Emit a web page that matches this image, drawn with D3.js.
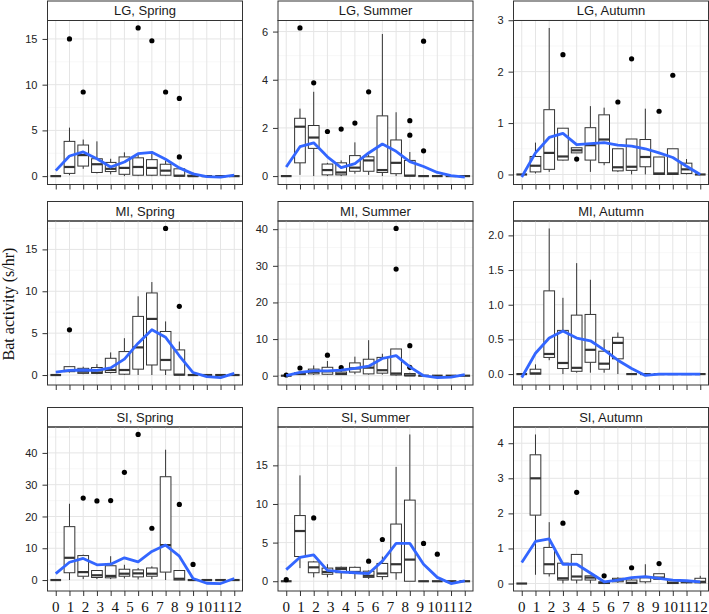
<!DOCTYPE html>
<html>
<head>
<meta charset="utf-8">
<script src="https://cdn.jsdelivr.net/npm/d3@7"></script>
<style>
  body { margin: 0; background: #fff; }
</style>
</head>
<body>
<div id="chart"></div>
<script>
// x slots (14 tick positions) and the labels typed under them
const slots = [0, 1, 2, 3, 4, 5, 6, 7, 8, 9, 10, 11, 12, 13];
const hourLabels = ["0", "1", "2", "3", "4", "5", "6", "7", "8", "9", "10", "11", "12"];

const sites = ["LG", "MI", "SI"];
const seasons = ["Spring", "Summer", "Autumn"];

// boxes per slot: [lower whisker, q1, median, q3, upper whisker]
const lgSpringBox = [[0,0,0,0,0],[0.1,0.3,1.0,3.8,5.3],[0.8,1.1,2.3,3.4,4.0],[0.3,0.4,1.3,1.9,3.8],[0.2,0.5,0.8,1.5,1.9],[0,0.2,0.9,2.1,2.6],[0,0.1,1.0,2.0,2.4],[0,0.1,0.9,1.8,2.7],[0,0.1,0.6,1.3,1.7],[0,0,0.05,0.8,0.9],[0,0,0,0.1,0.4],[0,0,0,0,0],[0,0,0,0,0],[0,0,0,0,0]];
const lgSpringOut = [[1,15.0],[2,9.2],[6,16.2],[7,14.8],[8,9.2],[9,8.5],[9,2.1]];
const lgSpringFit = [0.6,2.2,2.65,1.9,1.0,1.55,2.45,2.6,1.85,0.9,0.25,-0.05,-0.1,0.1];

const lgSummerBox = [[0,0,0,0,0],[0.05,0.55,2.05,2.4,2.8],[0,1.15,1.6,2.1,3.5],[0,0.05,0.25,0.5,0.55],[0,0.05,0.15,0.55,0.65],[0.1,0.2,0.35,0.85,1.4],[0.05,0.2,0.65,0.8,0.9],[0,0.15,0.25,2.5,5.9],[0,0.1,0.55,1.5,2.65],[0,0,0.02,0.65,1.0],[0,0,0,0,0],[0,0,0,0,0],[0,0,0,0,0],[0,0,0,0,0]];
const lgSummerOut = [[1,6.15],[2,3.87],[3,1.85],[4,1.95],[5,2.2],[6,3.5],[9,2.3],[9,1.7],[10,5.6],[10,1.05]];
const lgSummerFit = [0.38,1.22,1.38,0.8,0.35,0.52,0.96,1.33,1.03,0.6,0.4,0.15,0.02,-0.04];

const lgAutumnBox = [[0,0,0,0,0],[0.02,0.05,0.17,0.35,0.62],[0.05,0.1,0.42,1.26,2.85],[0.27,0.28,0.35,0.9,0.9],[0.42,0.42,0.47,0.52,0.52],[0.05,0.28,0.57,0.91,1.33],[0.18,0.23,0.68,1.16,1.3],[0.05,0.07,0.14,0.5,0.5],[0,0.08,0.15,0.69,0.69],[0,0.15,0.34,0.68,1.28],[0,0,0.02,0.34,0.34],[0,0,0.02,0.5,0.5],[0,0.02,0.1,0.22,0.3],[0,0,0,0,0]];
const lgAutumnOut = [[3,2.33],[4,0.3],[7,1.41],[8,2.25],[10,1.23],[11,1.93]];
const lgAutumnFit = [-0.05,0.42,0.72,0.8,0.58,0.6,0.62,0.57,0.55,0.5,0.42,0.33,0.16,0.0];

const miSpringBox = [[0,0,0,0,0],[0.3,0.4,0.5,1.0,1.0],[0.1,0.2,0.4,0.8,1.0],[0.1,0.2,0.3,0.9,1.3],[0.2,0.3,0.6,2.0,2.7],[0,0.1,0.6,2.8,4.4],[0,0.7,3.3,7.0,9.4],[0,1.2,6.7,9.8,11.1],[0,0.6,1.8,5.2,6.4],[0,0,0.05,3.0,4.0],[0,0,0,0,0],[0,0,0,0,0],[0,0,0,0,0],[0,0,0,0,0]];
const miSpringOut = [[1,5.4],[8,17.5],[9,8.2]];
const miSpringFit = [0.35,0.55,0.6,0.55,0.85,1.9,3.8,5.4,4.5,2.3,0.3,-0.2,-0.3,0.2];

const miSummerBox = [[0,0,0,0,0],[0.2,0.3,0.5,0.8,1.2],[0.2,0.5,1.0,1.8,2.8],[0.3,0.4,1.2,2.3,4.0],[0.2,0.3,0.5,1.0,1.7],[0.4,1.0,2.0,3.5,5.2],[0.3,0.5,2.2,4.5,9.7],[0.3,0.7,1.5,5.0,6.0],[0,0.2,0.6,7.3,7.3],[0,0,0.1,0.6,0.8],[0,0,0,0,0],[0,0,0,0,0],[0,0,0,0,0],[0,0,0,0,0]];
const miSummerOut = [[0,0.2],[1,2.1],[3,5.6],[4,2.2],[8,40.2],[8,29.1],[9,8.2],[9,2.3]];
const miSummerFit = [0.0,0.9,1.3,1.3,1.5,2.0,2.6,4.7,5.5,2.4,0.0,-0.5,-0.4,0.3];

const miAutumnBox = [[0,0,0,0,0],[0,0,0.01,0.07,0.14],[0.2,0.24,0.29,1.2,2.1],[0,0.08,0.16,0.63,1.1],[0.02,0.04,0.09,0.85,1.6],[0.02,0.17,0.35,0.86,1.36],[0.02,0.07,0.15,0.33,0.5],[0,0.22,0.45,0.53,0.6],[0,0,0,0,0],[0,0,0,0,0],[0,0,0,0,0],[0,0,0,0,0],[0,0,0,0,0],[0,0,0,0,0]];
const miAutumnOut = [];
const miAutumnFit = [-0.05,0.3,0.52,0.62,0.52,0.48,0.35,0.2,0.08,-0.02,0.0,0.0,0.0,0.0];

const siSpringBox = [[0,0,0,0,0],[0,2.3,7.0,16.8,24.0],[0.3,1.2,2.5,7.7,8.0],[0.3,0.8,1.5,3.0,3.0],[0.3,0.7,1.3,4.5,7.5],[0.5,1.2,2.0,3.4,4.8],[0.2,1.0,2.1,3.2,3.8],[0.3,1.2,2.0,3.8,4.3],[0,2.5,11.0,32.5,41.0],[0,0,0.4,3.0,3.0],[0,0,0,0,0],[0,0,0,0,0],[0,0,0,0,0],[0,0,0,0,0]];
const siSpringOut = [[2,25.8],[3,24.9],[4,25.0],[5,33.9],[6,45.8],[7,16.3],[9,23.8],[10,4.9]];
const siSpringFit = [2.0,5.6,6.8,4.8,5.0,7.0,5.7,9.0,11.0,7.5,0.5,-1.0,-1.1,0.5];

const siSummerBox = [[0,0,0,0,0],[1.7,3.2,6.5,8.5,13.7],[0.5,1.1,1.8,2.5,2.6],[0.5,0.9,1.2,1.7,2.2],[0.3,1.1,1.6,1.8,1.9],[0.3,1.0,1.2,1.8,1.9],[0.3,0.5,0.7,1.3,1.4],[0.2,0.6,1.0,2.3,3.2],[0.2,1.1,2.2,7.4,14.8],[0,0,2.8,10.5,19.0],[0,0,0,0,0],[0,0,0,0,0],[0,0,0,0,0],[0,0,0,0,0]];
const siSummerOut = [[0,0.2],[2,8.2],[6,2.6],[7,5.4],[10,4.9],[11,3.5]];
const siSummerFit = [1.5,3.1,3.4,1.4,1.2,1.1,1.0,2.6,4.9,4.9,2.2,0.5,-0.3,0.05];

const siAutumnBox = [[0,0,0,0,0],[0.25,1.95,3.0,3.67,4.25],[0.2,0.28,0.55,1.03,1.75],[0,0.1,0.15,0.58,0.58],[0,0.1,0.2,0.83,0.83],[0,0.1,0.17,0.22,0.22],[0,0,0.02,0.05,0.05],[0.02,0.05,0.1,0.15,0.18],[0,0,0.02,0.1,0.12],[0,0.05,0.18,0.2,0.55],[0.1,0.12,0.17,0.28,0.28],[0,0,0.02,0.08,0.08],[0,0.02,0.05,0.08,0.1],[0,0.02,0.05,0.15,0.22]];
const siAutumnOut = [[3,1.72],[4,2.6],[6,0.22],[8,0.45],[10,0.57]];
const siAutumnFit = [0.6,1.2,1.27,0.55,0.55,0.3,0.05,0.1,0.17,0.2,0.15,0.1,0.08,0.05];

// y tick values per panel (row-major)
const yTicks = [
  [0, 5, 10, 15], [0, 2, 4, 6], [0, 1, 2, 3],
  [0, 5, 10, 15], [0, 10, 20, 30, 40], [0, 0.5, 1, 1.5, 2],
  [0, 10, 20, 30, 40], [0, 5, 10, 15], [0, 1, 2, 3, 4]
];

const panels = [
  [lgSpringBox, lgSpringOut, lgSpringFit], [lgSummerBox, lgSummerOut, lgSummerFit], [lgAutumnBox, lgAutumnOut, lgAutumnFit],
  [miSpringBox, miSpringOut, miSpringFit], [miSummerBox, miSummerOut, miSummerFit], [miAutumnBox, miAutumnOut, miAutumnFit],
  [siSpringBox, siSpringOut, siSpringFit], [siSummerBox, siSummerOut, siSummerFit], [siAutumnBox, siAutumnOut, siAutumnFit]
].map((p, i) => ({
  title: sites[Math.floor(i / 3)] + ", " + seasons[i % 3],
  box: p[0], out: p[1], fit: p[2], ticks: yTicks[i],
  row: Math.floor(i / 3), col: i % 3
}));

// layout
const width = 709, height = 614;
const colX = [47.5, 278, 513.5];
const rowY = [20.5, 221, 427];
const panelW = 195, panelH = 164, stripH = 19.5;
const boxFrac = 0.78;
const ink = "#333";

const svg = d3.select("#chart").append("svg")
  .attr("width", width)
  .attr("height", height)
  .style("font-family", "'Liberation Sans', Arial, sans-serif");

panels.forEach(p => {
  const x0 = colX[p.col], y0 = rowY[p.row];

  const x = d3.scalePoint().domain(slots).range([x0, x0 + panelW]).padding(0.6);

  // free y scale with 5% expansion
  const vals = p.box.flat().concat(p.out.map(d => d[1]), p.fit);
  const lo = d3.min(vals), hi = d3.max(vals), pad = (hi - lo) * 0.05;
  const y = d3.scaleLinear().domain([lo - pad, hi + pad]).range([y0 + panelH, y0]);

  const g = svg.append("g");

  // strip
  g.append("rect")
    .attr("x", x0).attr("y", y0 - stripH)
    .attr("width", panelW).attr("height", stripH)
    .attr("fill", "#fff").attr("stroke", ink).attr("stroke-width", 1);
  g.append("text")
    .attr("x", x0 + panelW / 2).attr("y", y0 - stripH / 2 + 4.5)
    .attr("text-anchor", "middle")
    .attr("font-size", 13)
    .attr("fill", "#1a1a1a")
    .text(p.title);

  // grid: minor y, major y, major x
  const step = p.ticks[1] - p.ticks[0];
  const minor = d3.range(p.ticks[0] - step / 2, p.ticks[p.ticks.length - 1] + step, step)
    .filter(v => v > y.domain()[0] && v < y.domain()[1]);
  g.append("g").selectAll("line").data(minor).join("line")
    .attr("x1", x0).attr("x2", x0 + panelW)
    .attr("y1", d => y(d)).attr("y2", d => y(d))
    .attr("stroke", "#f2f2f2").attr("stroke-width", 0.6);
  g.append("g").selectAll("line").data(p.ticks).join("line")
    .attr("x1", x0).attr("x2", x0 + panelW)
    .attr("y1", d => y(d)).attr("y2", d => y(d))
    .attr("stroke", "#e5e5e5").attr("stroke-width", 1);
  g.append("g").selectAll("line").data(slots).join("line")
    .attr("x1", d => x(d)).attr("x2", d => x(d))
    .attr("y1", y0).attr("y2", y0 + panelH)
    .attr("stroke", "#e5e5e5").attr("stroke-width", 1);

  // boxplots
  const bw = x.step() * boxFrac;
  const boxes = g.append("g").selectAll("g").data(p.box).join("g");
  boxes.append("line")
    .attr("x1", (d, i) => x(slots[i])).attr("x2", (d, i) => x(slots[i]))
    .attr("y1", d => y(d[0])).attr("y2", d => y(d[1]))
    .attr("stroke", ink).attr("stroke-width", 1);
  boxes.append("line")
    .attr("x1", (d, i) => x(slots[i])).attr("x2", (d, i) => x(slots[i]))
    .attr("y1", d => y(d[3])).attr("y2", d => y(d[4]))
    .attr("stroke", ink).attr("stroke-width", 1);
  boxes.append("rect")
    .attr("x", (d, i) => x(slots[i]) - bw / 2)
    .attr("y", d => y(d[3]))
    .attr("width", bw)
    .attr("height", d => y(d[1]) - y(d[3]))
    .attr("fill", "#fff").attr("stroke", ink).attr("stroke-width", 1);
  boxes.append("line")
    .attr("x1", (d, i) => x(slots[i]) - bw / 2).attr("x2", (d, i) => x(slots[i]) + bw / 2)
    .attr("y1", d => y(d[2])).attr("y2", d => y(d[2]))
    .attr("stroke", ink).attr("stroke-width", 2.2);

  // outliers
  g.append("g").selectAll("circle").data(p.out).join("circle")
    .attr("cx", d => x(d[0])).attr("cy", d => y(d[1]))
    .attr("r", 2.6).attr("fill", "#000");

  // smoothed trend
  g.append("path")
    .datum(p.fit)
    .attr("d", d3.line().x((d, i) => x(slots[i])).y(d => y(d)))
    .attr("fill", "none").attr("stroke", "#3366FF").attr("stroke-width", 2.8)
    .attr("stroke-linejoin", "round");

  // panel border
  g.append("rect")
    .attr("x", x0).attr("y", y0).attr("width", panelW).attr("height", panelH)
    .attr("fill", "none").attr("stroke", ink).attr("stroke-width", 1);

  // axes
  const fmt = p.ticks.some(v => v % 1) ? d3.format(".1f") : d3.format("d");
  const ya = g.append("g")
    .attr("transform", `translate(${x0},0)`)
    .call(d3.axisLeft(y).tickValues(p.ticks).tickFormat(fmt).tickSize(5).tickPadding(5));
  ya.select(".domain").remove();
  ya.selectAll("line").attr("stroke", ink);
  ya.selectAll("text").attr("font-size", 11).attr("fill", "#222")
    .attr("font-family", "'Liberation Sans', Arial, sans-serif");

  const xa = g.append("g")
    .attr("transform", `translate(0,${y0 + panelH})`)
    .call(d3.axisBottom(x).tickFormat("").tickSize(5));
  xa.select(".domain").remove();
  xa.selectAll("line").attr("stroke", ink);

  // hour labels under the bottom row, spread over the tick span
  if (p.row === 2) {
    const lx = d3.scalePoint().domain(hourLabels).range([x(slots[0]), x(slots[slots.length - 1])]);
    g.append("g").selectAll("text").data(hourLabels).join("text")
      .attr("x", d => lx(d)).attr("y", 612)
      .attr("text-anchor", "middle")
      .attr("font-family", "'Liberation Serif', 'Times New Roman', serif")
      .attr("font-size", 15)
      .attr("fill", "#111")
      .text(d => d);
  }
});

// y axis title
svg.append("text")
  .attr("transform", "translate(14,304) rotate(-90)")
  .attr("text-anchor", "middle")
  .attr("font-family", "'Liberation Serif', 'Times New Roman', serif")
  .attr("font-size", 16)
  .attr("fill", "#111")
  .text("Bat activity (s/hr)");
</script>
</body>
</html>
